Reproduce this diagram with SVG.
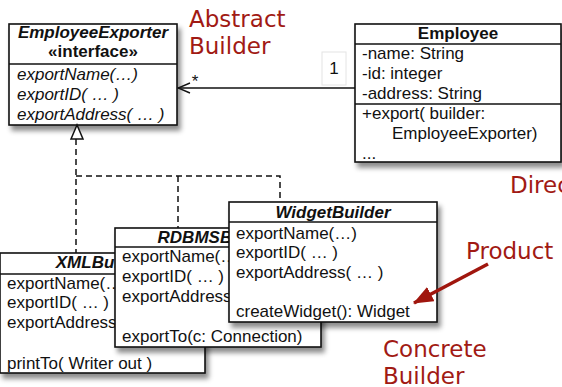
<svg xmlns="http://www.w3.org/2000/svg" width="562" height="387" viewBox="0 0 562 387">
  <defs>
    <filter id="shadow" x="-10%" y="-10%" width="130%" height="140%">
      <feDropShadow dx="3" dy="5" stdDeviation="2.5" flood-color="#000" flood-opacity="0.45"/>
    </filter>
    <marker id="open-arrow" viewBox="0 0 14 12" refX="13" refY="6" markerWidth="14" markerHeight="12" markerUnits="userSpaceOnUse" orient="auto">
      <path d="M1,1 L13,6 L1,11" fill="none" stroke="#111" stroke-width="1.4"/>
    </marker>
    <marker id="red-arrow" viewBox="0 0 20 16" refX="19" refY="8" markerWidth="20" markerHeight="16" markerUnits="userSpaceOnUse" orient="auto">
      <path d="M0,0 L20,8 L0,16 Z" fill="#a0160e"/>
    </marker>
  </defs>
  <style>
    .box { fill: #fff; stroke: #111; stroke-width: 1.6; }
    .div { stroke: #111; stroke-width: 1.4; }
    .t { font-family: "Liberation Sans", Arial, sans-serif; font-size: 17px; fill: #111; }
    .title { font-weight: bold; font-style: italic; text-anchor: middle; }
    .bold { font-weight: bold; text-anchor: middle; }
    .it { font-style: italic; }
    .note { font-family: "DejaVu Sans", Verdana, sans-serif; font-size: 23px; fill: #a11a14; }
    .dash { fill: none; stroke: #111; stroke-width: 1.5; stroke-dasharray: 6 4; }
  </style>

  <!-- role labels -->
  <g id="labels">
    <text class="note" x="189" y="27">Abstract</text>
    <text class="note" x="189" y="54">Builder</text>
    <text class="note" x="510" y="193">Director</text>
    <text class="note" x="466" y="259">Product</text>
    <text class="note" x="383" y="357">Concrete</text>
    <text class="note" x="383" y="384">Builder</text>
  </g>

  <!-- abstract builder interface -->
  <g id="employee-exporter">
    <rect class="box" x="9" y="24" width="168" height="101" filter="url(#shadow)"/>
    <line class="div" x1="9" y1="64" x2="177" y2="64"/>
    <text class="t title" x="93" y="38">EmployeeExporter</text>
    <text class="t bold" x="93" y="57">«interface»</text>
    <text class="t it" x="17" y="80">exportName(…)</text>
    <text class="t it" x="17" y="100">exportID( … )</text>
    <text class="t it" x="17" y="120">exportAddress( … )</text>
  </g>

  <!-- director -->
  <g id="employee">
    <rect class="box" x="355" y="24" width="206" height="138" filter="url(#shadow)"/>
    <line class="div" x1="355" y1="44" x2="561" y2="44"/>
    <line class="div" x1="355" y1="104" x2="561" y2="104"/>
    <text class="t bold" x="458" y="39">Employee</text>
    <text class="t" x="362" y="59">-name: String</text>
    <text class="t" x="362" y="79">-id: integer</text>
    <text class="t" x="362" y="99">-address: String</text>
    <text class="t" x="362" y="119">+export( builder:</text>
    <text class="t" x="392" y="139">EmployeeExporter)</text>
    <text class="t" x="362" y="159">...</text>
  </g>

  <!-- concrete builders -->
  <g id="xml-builder">
    <rect class="box" x="0" y="253" width="205" height="120" filter="url(#shadow)"/>
    <line class="div" x1="0" y1="274" x2="205" y2="274"/>
    <text class="t title" x="103" y="268">XMLBuilder</text>
    <text class="t" x="7" y="289">exportName(…)</text>
    <text class="t" x="7" y="308">exportID( … )</text>
    <text class="t" x="7" y="328">exportAddress( … )</text>
    <text class="t" x="7" y="369">printTo( Writer out )</text>
  </g>

  <g id="rdbms-builder">
    <rect class="box" x="115" y="228" width="206" height="119" filter="url(#shadow)"/>
    <line class="div" x1="115" y1="247" x2="321" y2="247"/>
    <text class="t title" x="218" y="243">RDBMSBuilder</text>
    <text class="t" x="122" y="262">exportName(…)</text>
    <text class="t" x="122" y="282">exportID( … )</text>
    <text class="t" x="122" y="302">exportAddress( … )</text>
    <text class="t" x="122" y="342">exportTo(c: Connection)</text>
  </g>

  <g id="widget-builder">
    <rect class="box" x="229" y="202" width="208" height="120" filter="url(#shadow)"/>
    <line class="div" x1="229" y1="222" x2="437" y2="222"/>
    <text class="t title" x="333" y="218">WidgetBuilder</text>
    <text class="t" x="236" y="239">exportName(…)</text>
    <text class="t" x="236" y="258">exportID( … )</text>
    <text class="t" x="236" y="278">exportAddress( … )</text>
    <text class="t" x="236" y="317">createWidget(): Widget</text>
  </g>

  <!-- connectors -->
  <g id="connectors">
    <!-- association Employee -> EmployeeExporter -->
    <line x1="355" y1="88" x2="178" y2="88" stroke="#111" stroke-width="1.5" marker-end="url(#open-arrow)"/>
    <text class="t" x="195" y="87" text-anchor="middle">*</text>
    <rect x="322" y="52" width="24" height="33" fill="none" stroke="#e4e4e4" stroke-width="1"/>
    <text class="t" x="334" y="74" text-anchor="middle">1</text>
    <!-- realization lines -->
    <path class="dash" d="M76,139 V253"/>
    <path class="dash" d="M76,176 H280 V202"/>
    <path class="dash" d="M178,176 V228"/>
    <path d="M77,125 L71,139 L83,139 Z" fill="#fff" stroke="#111" stroke-width="1.5"/>
    <!-- product pointer -->
    <line x1="488" y1="264" x2="414" y2="303" stroke="#a0160e" stroke-width="3.5" marker-end="url(#red-arrow)"/>
  </g>
</svg>
